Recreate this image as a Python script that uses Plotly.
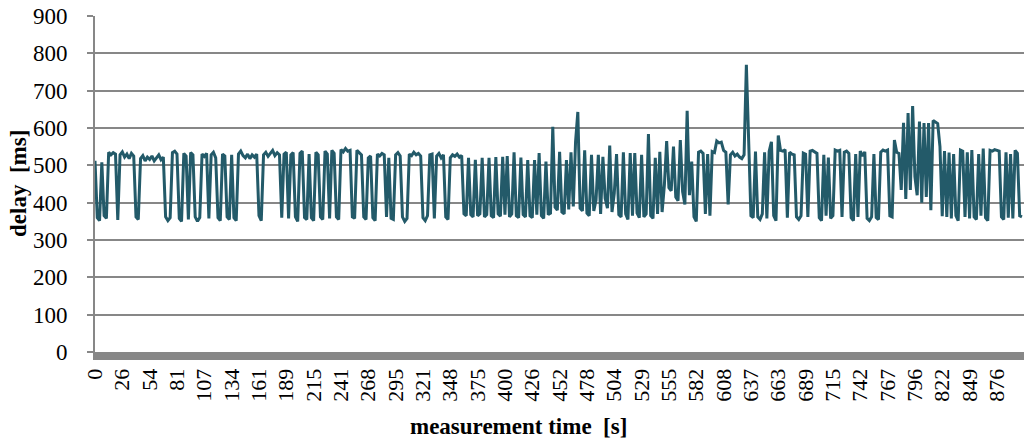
import plotly.graph_objects as go

time_labels = ["0", "26", "54", "81", "107", "134", "161", "189", "215", "241",
               "268", "295", "321", "348", "375", "400", "426", "452", "478", "504",
               "529", "555", "582", "608", "637", "663", "689", "715", "742", "767",
               "796", "822", "849", "876"]
samples_per_label = 12

delay_ms = [
    512, 360, 352, 508, 365, 358, 535, 528, 534, 530, 354, 528,
    536, 522, 530, 518, 532, 525, 362, 355, 518, 526, 512, 522,
    516, 525, 512, 520, 528, 515, 522, 362, 352, 360, 534, 538,
    530, 358, 350, 532, 525, 355, 534, 528, 362, 350, 360, 530,
    524, 532, 358, 528, 535, 520, 360, 352, 530, 525, 362, 355,
    528, 360, 352, 530, 538, 526, 520, 530, 518, 528, 522, 530,
    365, 352, 528, 535, 524, 532, 540, 526, 534, 528, 360, 530,
    535, 358, 528, 534, 362, 350, 532, 538, 360, 355, 530, 360,
    352, 535, 528, 362, 355, 538, 530, 358, 540, 532, 362, 355,
    542, 536, 545, 538, 540, 362, 358, 540, 535, 528, 362, 355,
    520, 525, 360, 352, 530, 525, 532, 528, 362, 520, 358, 355,
    528, 534, 525, 362, 350, 358, 530, 526, 535, 528, 532, 525,
    360, 352, 365, 528, 530, 358, 525, 532, 520, 528, 362, 355,
    520, 528, 524, 530, 522, 526, 370, 365, 520, 368, 362, 515,
    365, 370, 520, 362, 368, 520, 365, 360, 522, 370, 364, 523,
    368, 525, 362, 370, 535, 365, 360, 521, 368, 362, 514, 365,
    360, 514, 368, 533, 365, 358, 510, 368, 372, 603, 388, 380,
    536, 375, 370, 514, 382, 535, 390, 563, 643, 385, 378, 540,
    372, 365, 528, 378, 407, 528, 370, 523, 412, 385, 553, 375,
    425, 530, 368, 362, 535, 370, 355, 533, 365, 533, 372, 360,
    528, 362, 370, 584, 365, 358, 520, 370, 536, 375, 447, 565,
    440, 432, 550, 415, 405, 568, 430, 395, 646, 420, 510, 362,
    350, 535, 538, 532, 370, 530, 365, 537, 534, 565, 560, 562,
    540, 535, 395, 528, 535, 525, 530, 522, 518, 528, 769, 530,
    365, 360, 537, 362, 355, 370, 535, 358, 537, 563, 365, 352,
    580, 540, 538, 542, 360, 535, 530, 528, 362, 355, 365, 533,
    530, 362, 538, 540, 535, 532, 360, 352, 528, 365, 521, 358,
    365, 541, 538, 540, 362, 535, 538, 532, 360, 352, 530, 362,
    538, 525, 536, 358, 352, 362, 530, 360, 355, 535, 541, 538,
    541, 365, 362, 568, 535, 532, 434, 614, 410, 640, 434, 659,
    470, 420, 617, 400, 613, 415, 613, 380, 620, 615, 612, 550,
    364, 538, 362, 534, 358, 530, 365, 352, 541, 538, 362, 535,
    358, 541, 362, 355, 530, 365, 545, 360, 352, 540, 538, 542,
    541, 538, 362, 355, 535, 360, 530, 358, 540, 532, 365, 362,
]

y_ticks = list(range(0, 901, 100))

GRAY = "#878787"
LINE = "#235a69"
FONT = "Liberation Serif, Times New Roman, serif"

sample_index = list(range(len(delay_ms)))
tick_positions = [i * samples_per_label for i in range(len(time_labels))]

fig = go.Figure()
fig.add_trace(go.Scatter(
    x=sample_index, y=delay_ms, mode="lines",
    line=dict(color=LINE, width=3), showlegend=False, hoverinfo="skip",
))

fig.update_layout(
    width=1024, height=439,
    margin=dict(l=95, r=0, t=16, b=87, pad=0),
    paper_bgcolor="white", plot_bgcolor="white",
    font=dict(family=FONT, color="black", size=22),
    xaxis=dict(
        range=[0, (len(delay_ms) - 1) + 0.9],
        tickmode="array", tickvals=tick_positions, ticktext=time_labels,
        tickangle=-90, tickfont=dict(family=FONT, size=22),
        showgrid=False, zeroline=False,
        showline=True, linecolor=GRAY, linewidth=8,
        ticks="", automargin=False, fixedrange=True,
    ),
    yaxis=dict(
        range=[0, 900], tickmode="array", tickvals=y_ticks,
        tickfont=dict(family=FONT, size=23),
        showgrid=True, gridcolor=GRAY, gridwidth=2,
        zeroline=False,
        showline=True, linecolor=GRAY, linewidth=2,
        ticks="outside", ticklen=6, tickcolor=GRAY, tickwidth=2,
        ticklabelstandoff=15, automargin=False, fixedrange=True,
    ),
    annotations=[
        dict(text="<b>delay\u00a0 [ms]</b>", xref="paper", yref="paper",
             x=(18 - 95) / 929, y=0.5, showarrow=False, textangle=-90,
             font=dict(family=FONT, size=23), xanchor="center", yanchor="middle"),
        dict(text="<b>measurement time\u00a0 [s]</b>", xref="paper", yref="paper",
             x=(518.5 - 95) / 929, y=(352 - 426) / 336, showarrow=False,
             font=dict(family=FONT, size=23), xanchor="center", yanchor="middle"),
    ],
)

fig.write_html("out.html", config={"displayModeBar": False},
               post_script="document.body.style.margin='0';")
